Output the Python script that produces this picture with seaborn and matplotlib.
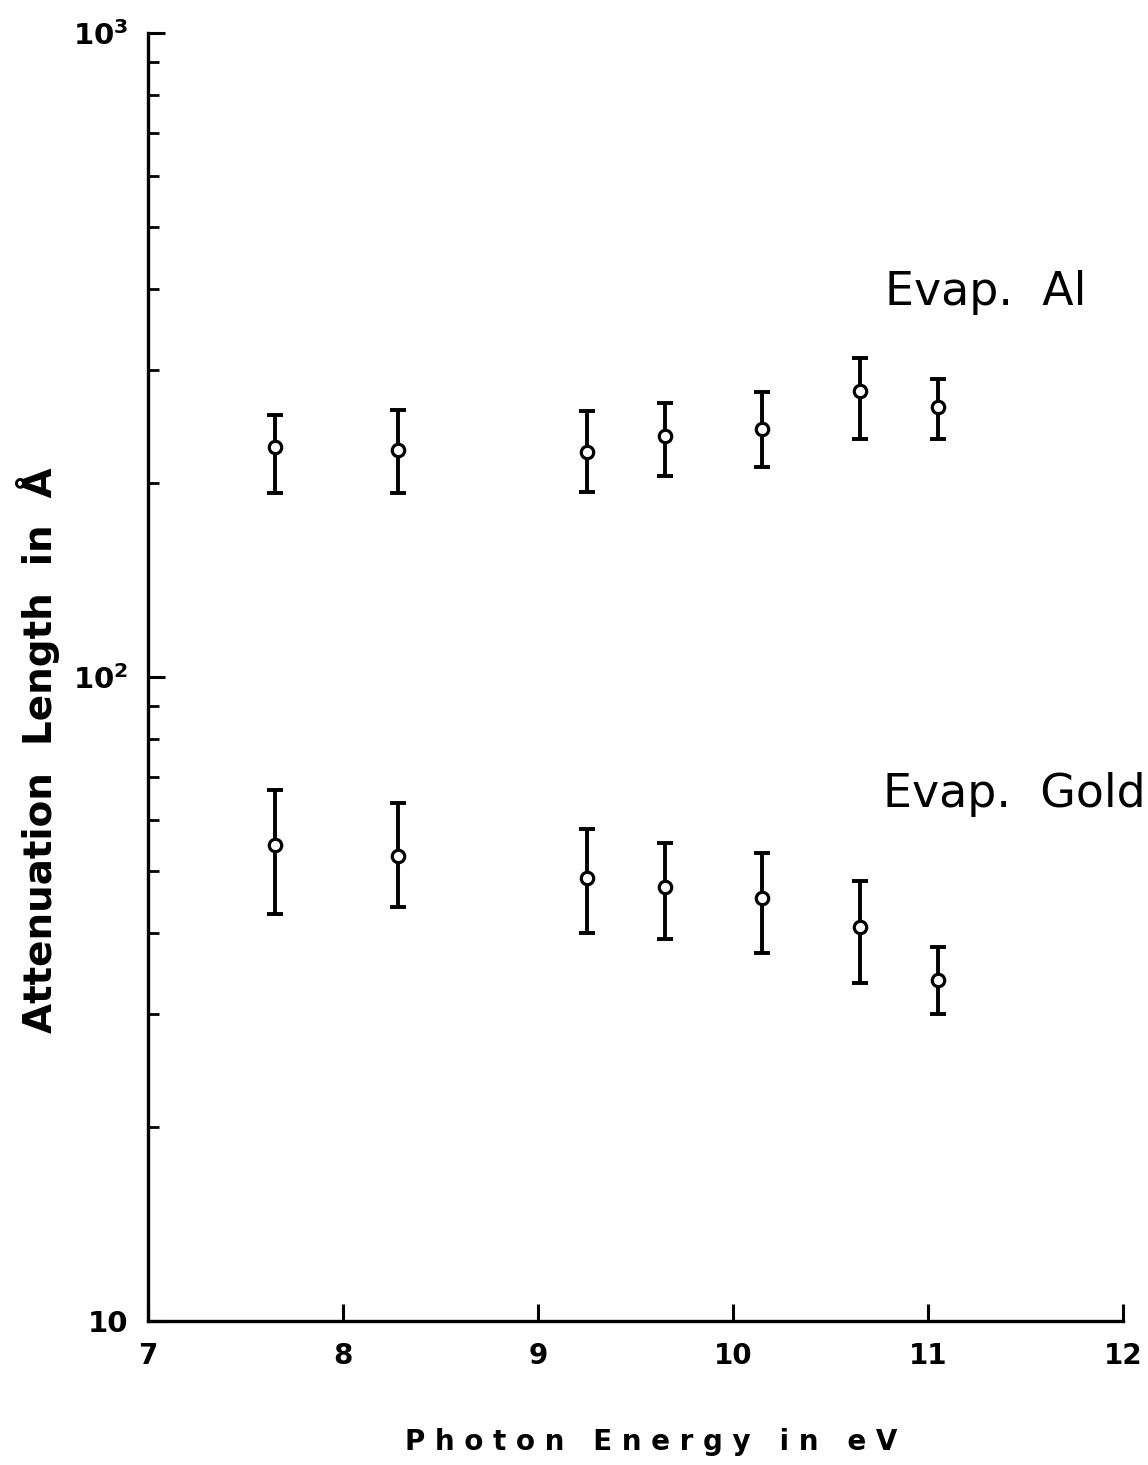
import numpy as np
import pandas as pd
import matplotlib
matplotlib.use('Agg')
import matplotlib.pyplot as plt
import matplotlib.ticker as mticker
import seaborn as sns

# photon energies (eV) for both films
energy = [7.65, 8.28, 9.25, 9.65, 10.15, 10.65, 11.05]

# evaporated Al: value, upper and lower limit (Angstrom)
al_val = [227.6, 225.2, 223.6, 236.7, 242.7, 278.0, 262.6]
al_hi = [255.2, 259.8, 258.8, 266.4, 277.0, 312.8, 290.1]
al_lo = [193.1, 193.1, 193.8, 205.2, 211.9, 234.2, 234.2]

# evaporated gold
au_val = [54.8, 52.7, 48.7, 47.2, 45.4, 40.9, 33.8]
au_hi = [66.8, 63.7, 58.1, 55.2, 53.3, 48.2, 38.1]
au_lo = [42.9, 43.9, 40.0, 39.2, 37.3, 33.5, 30.0]

x_ticks = [7, 8, 9, 10, 11, 12]
y_ticks = [10, 100, 1000]
y_ticklabels = ['10', r'$\mathbf{10^2}$', r'$\mathbf{10^3}$']

sns.set_style('white')
plt.rcParams['font.family'] = ['DejaVu Sans']
plt.rcParams['text.color'] = 'black'
plt.rcParams['xtick.color'] = 'black'
plt.rcParams['ytick.color'] = 'black'
plt.rcParams['mathtext.fontset'] = 'dejavusans'

df = pd.DataFrame({
    'energy': energy * 2,
    'length': al_val + au_val,
    'lo': al_lo + au_lo,
    'hi': al_hi + au_hi,
    'film': ['Evap. Al'] * len(energy) + ['Evap. Gold'] * len(energy),
})

fig = plt.figure(figsize=(11.48, 14.65), dpi=100)
ax = fig.add_axes([0.129, 0.0983, 0.849, 0.8792])

ax.errorbar(df['energy'], df['length'],
            yerr=[df['length'] - df['lo'], df['hi'] - df['length']],
            fmt='none', ecolor='black', elinewidth=2.8, capsize=6, capthick=2.8,
            zorder=2)
sns.scatterplot(data=df, x='energy', y='length', marker='o', s=80,
                color='white', edgecolor='black', linewidth=2.3, zorder=3,
                legend=False, ax=ax)

ax.set_yscale('log')
ax.set_xlim(7, 12)
ax.set_ylim(10, 1000)
ax.set_xticks(x_ticks)
ax.set_xticklabels([str(t) for t in x_ticks])
ax.set_yticks(y_ticks)
ax.set_yticklabels(y_ticklabels)
ax.yaxis.set_minor_locator(mticker.LogLocator(base=10, subs=np.arange(2, 10)))
ax.yaxis.set_minor_formatter(mticker.NullFormatter())
ax.set_xlabel('')
ax.set_ylabel('')

sns.despine(ax=ax)
for s in ['left', 'bottom']:
    ax.spines[s].set_linewidth(2.4)
    ax.spines[s].set_color('black')

ax.tick_params(axis='x', which='major', bottom=True, direction='in', length=12,
               width=2.2, labelsize=20, pad=15)
ax.tick_params(axis='y', which='major', left=True, direction='in', length=12,
               width=2.2, labelsize=21, pad=14)
ax.tick_params(axis='y', which='minor', left=True, direction='in', length=8,
               width=2.0)
for lab in ax.get_xticklabels() + ax.get_yticklabels():
    lab.set_fontweight('bold')

# series labels
ax.text(10.78, 378, 'Evap.  Al', fontsize=33, va='baseline', ha='left')
ax.text(10.77, 62.8, 'Evap.  Gold', fontsize=33, va='baseline', ha='left')

fig.text(651 / 1148, 1 - 1442 / 1465, 'P h o t o n   E n e r g y   i n   e V',
         fontsize=20, fontweight='bold', ha='center', va='center')
fig.text(38 / 1148, 1 - 750 / 1465, 'Attenuation  Length  in  Å',
         fontsize=28, fontweight='bold', rotation=90, ha='center', va='center')

fig.savefig('out.png', dpi=100)
